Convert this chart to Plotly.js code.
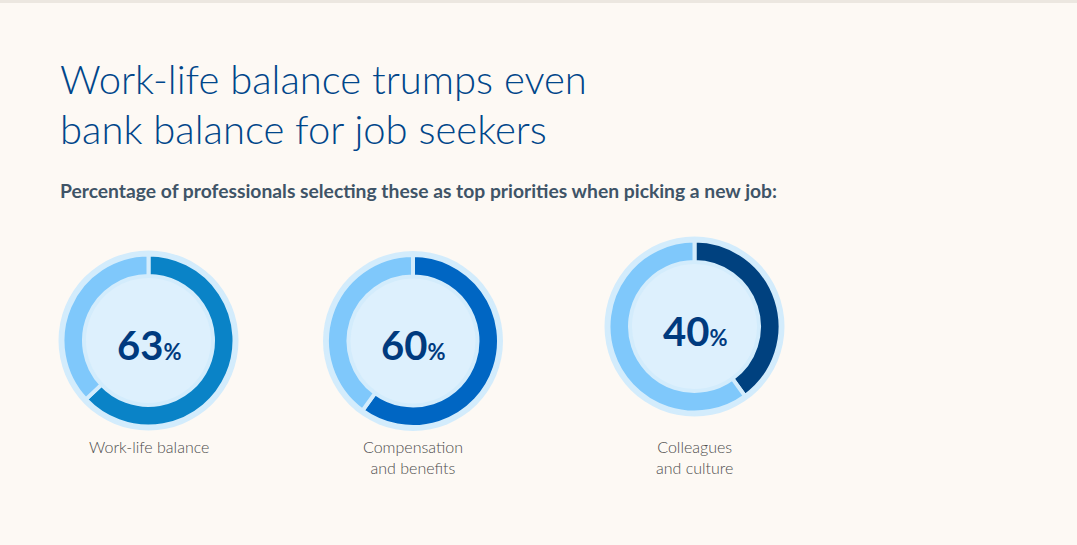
<!DOCTYPE html>
<html>
<head>
<meta charset="utf-8">
<script src="https://cdn.plot.ly/plotly-3.0.1.min.js"></script>
<style>
html,body{margin:0;padding:0;background:#fdf9f4;}
#chart{width:1077px;height:545px;}
</style>
</head>
<body>
<div id="chart"></div>
<script>
// ---- data ----
const categories = ['Work-life balance', 'Compensation<br>and benefits', 'Colleagues<br>and culture'];
const values = [63, 60, 40];
const remainder = values.map(v => 100 - v);
const percentLabels = ['63', '60', '40'];
const titleLines = ['Work-life balance trumps even', 'bank balance for job seekers'];
const subtitle = 'Percentage of professionals selecting these as top priorities when picking a new job:';

// ---- styling / layout ----
const W = 1077, H = 545;
const darkColors = ['#0a83c7', '#0066c3', '#00417f'];
const lightColor = '#7fc8fb';
const borderColor = '#d3ecfc';
const innerColor = '#ddf0fd';
const centersX = [148.5, 413, 694.5];
const centersY = [340.5, 341, 326.5];
const ringR = 86, borderR = 90, innerR = 64.5;

const traces = [];
const shapes = [];
const annotations = [];

categories.forEach((cat, i) => {
  const cx = centersX[i], cy = centersY[i];
  traces.push({
    type: 'pie',
    values: [values[i], remainder[i]],
    labels: [cat, 'Other'],
    sort: false,
    direction: 'clockwise',
    rotation: 0,
    hole: innerR / ringR,
    textinfo: 'none',
    hoverinfo: 'label+value',
    marker: {colors: [darkColors[i], lightColor], line: {color: borderColor, width: 4}},
    domain: {x: [(cx - ringR) / W, (cx + ringR) / W], y: [1 - (cy + ringR) / H, 1 - (cy - ringR) / H]},
    showlegend: false
  });
  shapes.push({type: 'circle', xref: 'paper', yref: 'paper', layer: 'below',
    x0: (cx - borderR) / W, x1: (cx + borderR) / W, y0: 1 - (cy + borderR) / H, y1: 1 - (cy - borderR) / H,
    fillcolor: borderColor, line: {width: 0}});
  shapes.push({type: 'circle', xref: 'paper', yref: 'paper', layer: 'below',
    x0: (cx - innerR) / W, x1: (cx + innerR) / W, y0: 1 - (cy + innerR) / H, y1: 1 - (cy - innerR) / H,
    fillcolor: innerColor, line: {width: 0}});
  annotations.push({xref: 'paper', yref: 'paper', x: cx / W, y: 1 - (cy + 4) / H,
    text: percentLabels[i] + '<span style="font-size:22px">%</span>', showarrow: false,
    xanchor: 'center', yanchor: 'middle',
    font: {family: 'Lato, sans-serif', size: 40, color: '#003a7e', weight: 700}});
  annotations.push({xref: 'paper', yref: 'paper', x: cx / W, y: 1 - 435 / H,
    text: cat, showarrow: false, xanchor: 'center', yanchor: 'top', align: 'center',
    font: {family: 'Lato, sans-serif', size: 16, color: '#4d4d4d', weight: 300}});
});

// title (two lines) and subtitle
const titleCentersY = [79, 129];
titleLines.forEach((t, k) => {
  annotations.push({xref: 'paper', yref: 'paper', x: 58 / W, y: 1 - titleCentersY[k] / H,
    text: t, showarrow: false, xanchor: 'left', yanchor: 'middle',
    font: {family: 'Lato, sans-serif', size: 40, color: '#00468a', weight: 300}});
});
annotations.push({xref: 'paper', yref: 'paper', x: 58 / W, y: 1 - 190 / H,
  text: subtitle,
  showarrow: false, xanchor: 'left', yanchor: 'middle',
  font: {family: 'Lato, sans-serif', size: 19.3, color: '#3f5467', weight: 700}});

shapes.push({type: 'rect', xref: 'paper', yref: 'paper', layer: 'below',
  x0: 0, x1: 1, y0: 1 - 3 / H, y1: 1, fillcolor: '#ece7e0', line: {width: 0}});

const layout = {
  width: W, height: H,
  margin: {l: 0, r: 0, t: 0, b: 0},
  paper_bgcolor: '#fdf9f4',
  plot_bgcolor: '#fdf9f4',
  shapes: shapes,
  annotations: annotations
};

Plotly.newPlot('chart', traces, layout, {displayModeBar: false, staticPlot: true});
</script>
</body>
</html>
